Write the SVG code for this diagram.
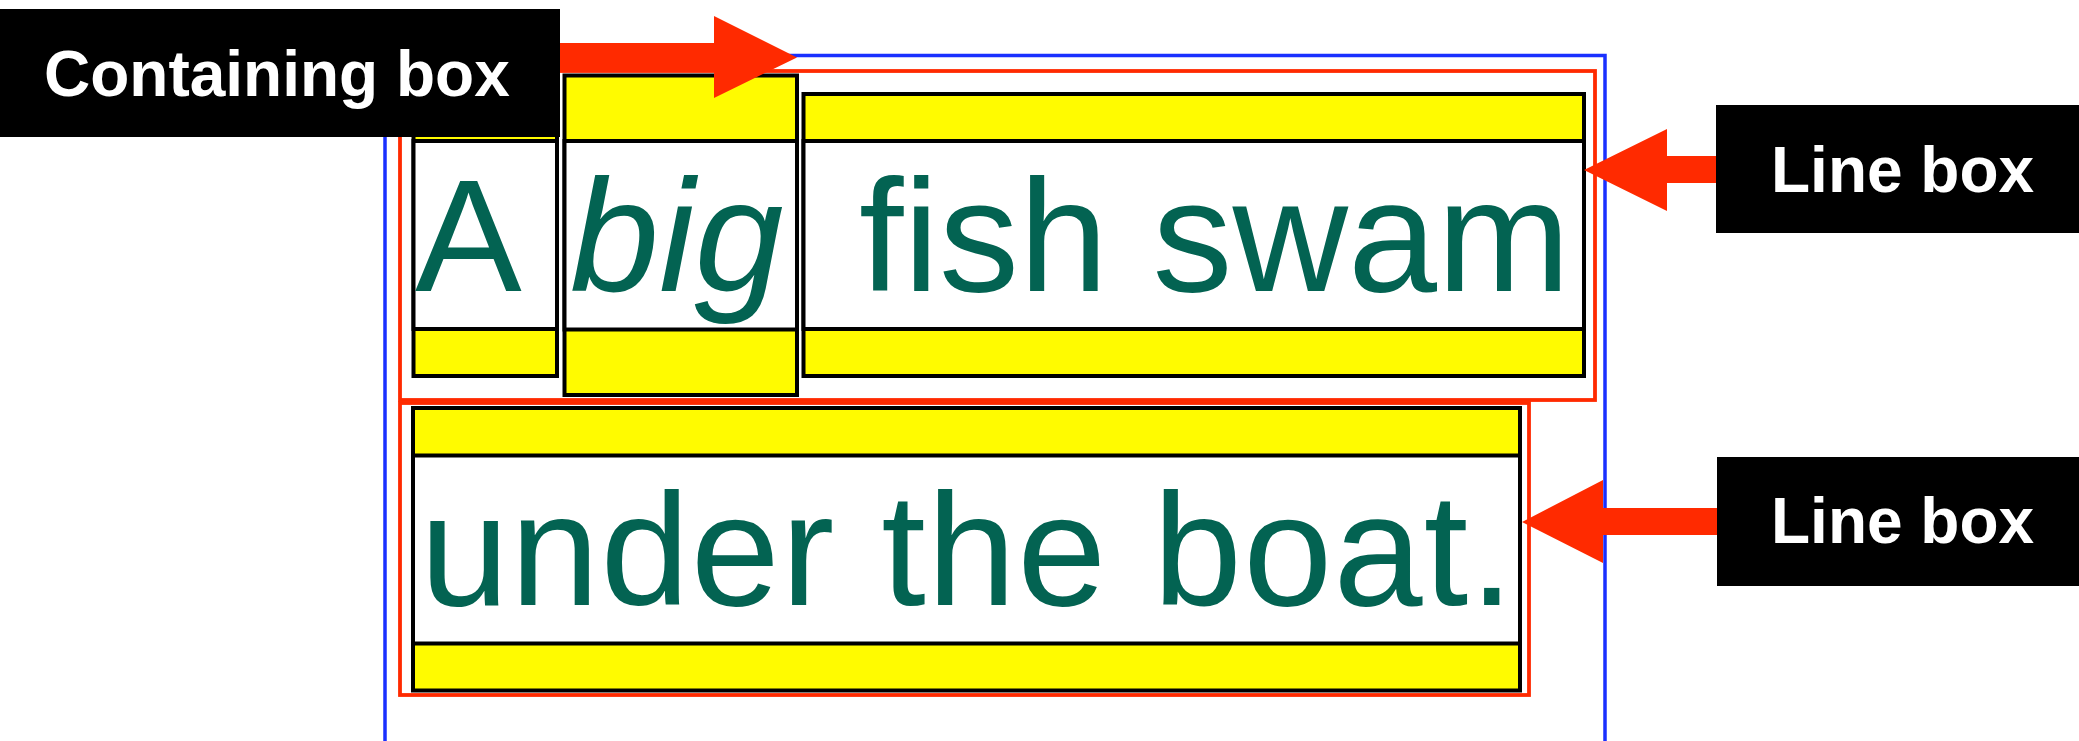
<svg xmlns="http://www.w3.org/2000/svg" width="2079" height="741" viewBox="0 0 2079 741">
  <style>
    .containing { fill: none; stroke: #1a30ff; stroke-width: 3.5; }
    .linebox { fill: none; stroke: #ff2a00; stroke-width: 3.8; }
    .inline { fill: #fffb00; stroke: #000; stroke-width: 4; }
    .content { fill: #fff; stroke: #000; stroke-width: 4; }
    .word { font-family: "Liberation Sans", Arial, sans-serif; font-size: 160px; fill: #036352; }
    .label-bg { fill: #000; }
    .label { font-family: "Liberation Sans", Arial, sans-serif; font-size: 64px; font-weight: bold; fill: #fff; }
    .arrow { fill: #ff2a00; }
  </style>

  <!-- containing block -->
  <g id="containing-box">
    <path class="containing" d="M385,741 V55.5 H1605 V741"/>
  </g>

  <!-- line boxes -->
  <g id="line-box-1">
    <rect class="linebox" x="400" y="71" width="1195" height="329"/>
  </g>
  <g id="line-box-2">
    <rect class="linebox" x="400" y="403" width="1129" height="292"/>
  </g>

  <!-- inline boxes: yellow half-leading above and below the white content area -->
  <g id="inline-a">
    <rect class="inline" x="413.5" y="94" width="143.5" height="282"/>
    <rect class="content" x="413.5" y="141" width="143.5" height="188"/>
    <text class="word" x="415" y="291">A</text>
  </g>
  <g id="inline-big">
    <rect class="inline" x="564.5" y="75.5" width="232.5" height="319.5"/>
    <rect class="content" x="564.5" y="141" width="232.5" height="188.5"/>
    <text class="word" x="570" y="291" font-style="italic">big</text>
  </g>
  <g id="inline-fish-swam">
    <rect class="inline" x="803.5" y="94" width="780.5" height="282"/>
    <rect class="content" x="803.5" y="141" width="780.5" height="188"/>
    <text class="word" x="859" y="291">fish swam</text>
  </g>
  <g id="inline-under-the-boat">
    <rect class="inline" x="413" y="408" width="1107" height="282.5"/>
    <rect class="content" x="413" y="455.5" width="1107" height="188"/>
    <text class="word" x="420" y="605" textLength="1094">under the boat.</text>
  </g>

  <!-- callout labels -->
  <g id="label-containing-box">
    <rect class="label-bg" x="0" y="9" width="560" height="128"/>
    <text class="label" x="44" y="96">Containing box</text>
  </g>
  <g id="label-line-box-1">
    <rect class="label-bg" x="1716" y="105" width="363" height="128"/>
    <text class="label" x="1771" y="192">Line box</text>
  </g>
  <g id="label-line-box-2">
    <rect class="label-bg" x="1717" y="457" width="362" height="129"/>
    <text class="label" x="1771" y="543">Line box</text>
  </g>

  <!-- connectors: block arrows from labels to boxes -->
  <g id="connectors">
    <polygon class="arrow" points="560,43 714,43 714,16 797,57.5 714,98 714,72 560,72"/>
    <polygon class="arrow" points="1716,156 1667,156 1667,129 1584,170 1667,211 1667,183 1716,183"/>
    <polygon class="arrow" points="1717,508 1603,508 1603,480 1522,522 1603,563 1603,535 1717,535"/>
  </g>
</svg>
